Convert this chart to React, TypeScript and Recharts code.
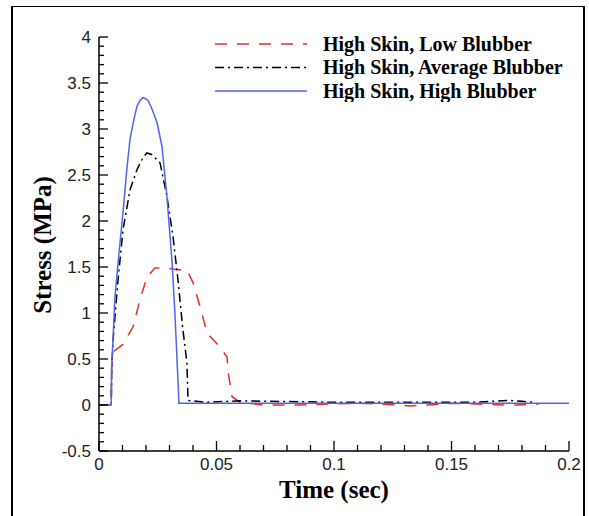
import React from "react";
import { LineChart, Line, XAxis, YAxis, Legend } from "recharts";

// ============================================
// Data
// ============================================

type Pt = { t: number; s: number };

const LOW_T = [0, 0.0052, 0.0054, 0.0062, 0.0102, 0.0145, 0.0174, 0.0204, 0.0238, 0.0281, 0.0332, 0.0374, 0.04, 0.043, 0.046, 0.0515, 0.0545, 0.055, 0.0566, 0.06, 0.07, 0.085, 0.11, 0.127, 0.132, 0.14, 0.15, 0.172, 0.178, 0.187];
const LOW_S = [0, 0, 0.4, 0.58, 0.66, 0.85, 1.14, 1.39, 1.49, 1.49, 1.47, 1.47, 1.33, 1.07, 0.78, 0.63, 0.52, 0.35, 0.09, 0.03, 0.0, 0.0, 0.02, 0.0, -0.01, 0.0, 0.02, 0.0, 0.0, 0.01];

const AVG_T = [0, 0.0052, 0.0054, 0.006, 0.0081, 0.0102, 0.0132, 0.0162, 0.0187, 0.0204, 0.0226, 0.026, 0.0289, 0.0315, 0.0336, 0.0357, 0.0374, 0.0379, 0.045, 0.06, 0.1, 0.13, 0.16, 0.175, 0.18, 0.185];
const AVG_S = [0, 0, 0.38, 0.71, 1.36, 1.9, 2.34, 2.56, 2.69, 2.74, 2.72, 2.63, 2.27, 1.83, 1.36, 0.82, 0.46, 0.05, 0.03, 0.045, 0.03, 0.03, 0.03, 0.05, 0.04, 0.03];

const HIGH_T = [0, 0.0052, 0.0054, 0.0068, 0.0085, 0.0102, 0.0118, 0.0132, 0.0148, 0.0162, 0.0175, 0.0187, 0.0198, 0.0209, 0.0225, 0.0247, 0.0268, 0.0289, 0.0311, 0.0323, 0.0336, 0.034, 0.2];
const HIGH_S = [0, 0, 0.41, 1.18, 1.65, 2.09, 2.55, 2.89, 3.1, 3.25, 3.31, 3.34, 3.33, 3.31, 3.22, 3.07, 2.81, 2.27, 1.55, 1.0, 0.27, 0.02, 0.02];

const X_MAJOR = [0, 0.05, 0.1, 0.15, 0.2];
const X_LABELS = ["0", "0.05", "0.1", "0.15", "0.2"];
const Y_MAJOR = [-0.5, 0, 0.5, 1, 1.5, 2, 2.5, 3, 3.5, 4];
const Y_LABELS = ["-0.5", "0", "0.5", "1", "1.5", "2", "2.5", "3", "3.5", "4"];

const zip = (ts: number[], ss: number[]): Pt[] => ts.map((t, i) => ({ t, s: ss[i] }));

const SERIES = [
  { name: "High Skin, Low Blubber", data: zip(LOW_T, LOW_S), color: "#e3302a", dash: "12 10" },
  { name: "High Skin, Average Blubber", data: zip(AVG_T, AVG_S), color: "#000000", dash: "9 4 2 4" },
  { name: "High Skin, High Blubber", data: zip(HIGH_T, HIGH_S), color: "#5262f2", dash: undefined },
];

// 4 minor ticks between each pair of majors
const withMinor = (major: number[]) => [
  ...major.slice(0, -1).flatMap((m, i) => [0, 1, 2, 3, 4].map((k) => m + (k * (major[i + 1] - m)) / 5)),
  major[major.length - 1],
];
const X_TICKS = withMinor(X_MAJOR);
const Y_TICKS = withMinor(Y_MAJOR);

const labelOf = (v: number, major: number[], labels: string[]) => {
  const i = major.findIndex((m) => Math.abs(m - v) < 1e-9);
  return i >= 0 ? labels[i] : null;
};

// ============================================
// Styles
// ============================================

const TICK_FONT = { fontFamily: "'Liberation Sans', Arial, sans-serif", fontSize: 17, fill: "#222" };
const TITLE_FONT = { fontFamily: "'Liberation Serif', 'Times New Roman', serif", fontSize: 25, fontWeight: 700, fill: "#000" };

// ============================================
// Ticks / titles / legend
// ============================================

function XTick({ x, y, payload }: any) {
  const label = labelOf(payload.value, X_MAJOR, X_LABELS);
  return (
    <g>
      <line x1={x} y1={y} x2={x} y2={y - (label ? 10 : 6)} stroke="#000" strokeWidth={1.3} />
      {label && (
        <text x={x} y={y + 19} textAnchor="middle" {...TICK_FONT}>
          {label}
        </text>
      )}
    </g>
  );
}

function YTick({ x, y, payload }: any) {
  const label = labelOf(payload.value, Y_MAJOR, Y_LABELS);
  return (
    <g>
      <line x1={x} y1={y} x2={x + (label ? 9 : 5)} y2={y} stroke="#000" strokeWidth={1.3} />
      {label && (
        <text x={x - 8} y={y + 6} textAnchor="end" {...TICK_FONT}>
          {label}
        </text>
      )}
    </g>
  );
}

function LegendBox() {
  return (
    <svg width={370} height={72}>
      {SERIES.map((s, i) => {
        const cy = 14 + i * 23.5;
        return (
          <g key={s.name}>
            <line x1={5} x2={97} y1={cy} y2={cy} stroke={s.color} strokeWidth={1.5} strokeDasharray={s.dash} />
            <text x={113} y={cy + 6.5} fontFamily="'Liberation Serif', 'Times New Roman', serif" fontSize={20} fontWeight={700} fill="#000">
              {s.name}
            </text>
          </g>
        );
      })}
    </svg>
  );
}

export default function App() {
  return (
    <div style={{ position: "fixed", left: 0, top: 0, width: 589, height: 516, background: "#fff", overflow: "hidden" }}>
      <div
        style={{
          position: "absolute",
          left: 11,
          top: 6,
          width: 574,
          height: 530,
          boxSizing: "border-box",
          borderLeft: "2px solid #000",
          borderRight: "2px solid #000",
          borderTop: "1px solid #000",
        }}
      />
      <LineChart width={589} height={516} margin={{ top: 37, right: 20, bottom: 5, left: 9 }}>
        <XAxis
          dataKey="t"
          type="number"
          domain={[0, 0.2]}
          ticks={X_TICKS}
          interval={0}
          tickSize={0}
          tickMargin={0}
          tickLine={false}
          tick={<XTick />}
          height={60}
          axisLine={{ stroke: "#000", strokeWidth: 1.5 }}
          allowDataOverflow
          label={{
            content: () => (
              <text x={334} y={498} textAnchor="middle" {...TITLE_FONT}>
                Time (sec)
              </text>
            ),
          }}
        />
        <YAxis
          type="number"
          domain={[-0.5, 4]}
          ticks={Y_TICKS}
          interval={0}
          tickSize={0}
          tickMargin={0}
          tickLine={false}
          tick={<YTick />}
          width={90}
          axisLine={{ stroke: "#000", strokeWidth: 1.5 }}
          allowDataOverflow
          label={{
            content: () => (
              <text x={51} y={245} textAnchor="middle" transform="rotate(-90, 51, 245)" {...TITLE_FONT}>
                Stress (MPa)
              </text>
            ),
          }}
        />
        <Legend
          layout="horizontal"
          verticalAlign="middle"
          align="center"
          content={() => <LegendBox />}
          wrapperStyle={{ position: "absolute", left: 210, top: 30, width: 370, height: 72 }}
        />
        {SERIES.map((s) => (
          <Line
            key={s.name}
            data={s.data}
            dataKey="s"
            name={s.name}
            type="linear"
            stroke={s.color}
            strokeWidth={1.5}
            strokeDasharray={s.dash}
            dot={false}
            activeDot={false}
            isAnimationActive={false}
          />
        ))}
      </LineChart>
    </div>
  );
}
